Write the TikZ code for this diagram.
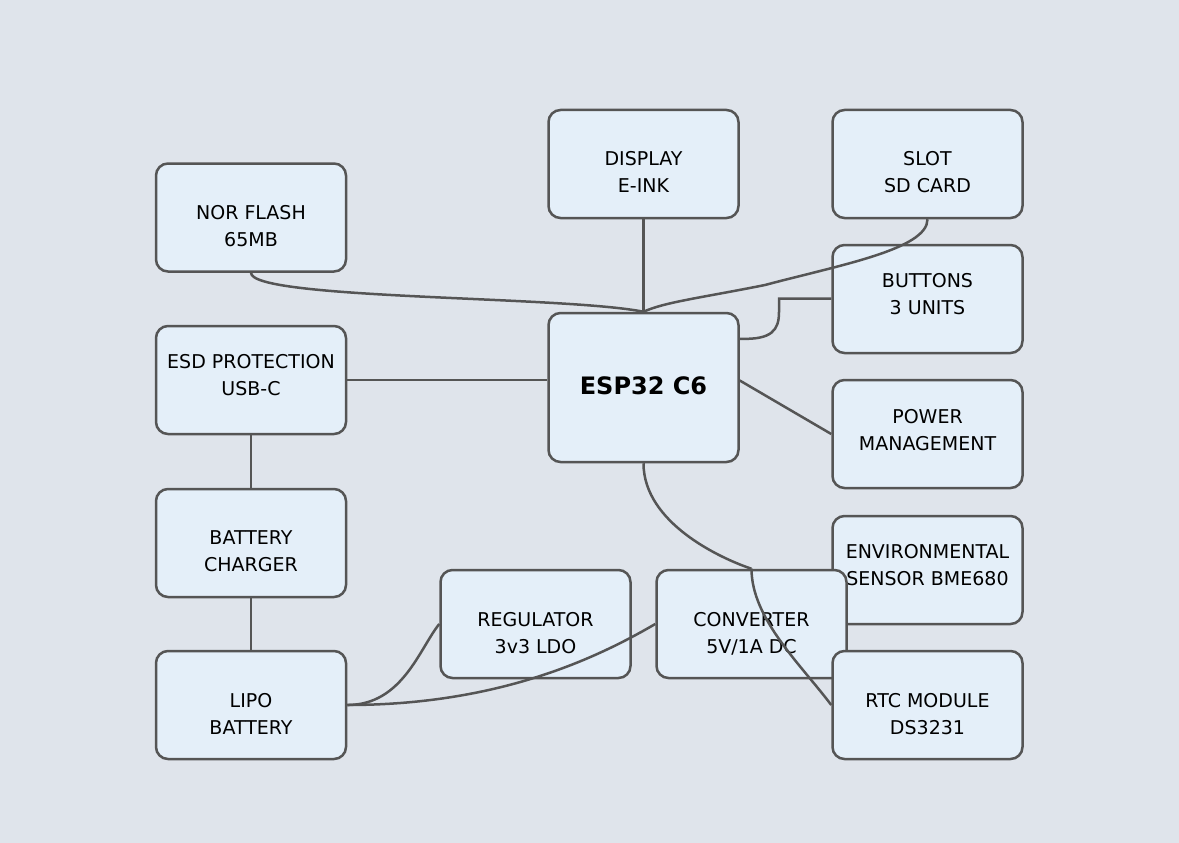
\documentclass[tikz,border=0pt]{standalone}
\usepackage{fontspec}
\setmainfont{DejaVu Sans}
\usetikzlibrary{calc}
\definecolor{bgc}{RGB}{223,228,235}
\definecolor{boxfill}{RGB}{228,239,249}
\definecolor{edgec}{RGB}{85,85,85}
\newcommand\twoline[3][-10.5pt]{\raisebox{#1}[\height][\depth]{\begin{tabular}{@{}c@{}}#2\\#3\end{tabular}}}
\tikzset{
  blk/.style={rectangle, rounded corners=12pt, draw=edgec, line width=2.5pt, fill=boxfill,
    minimum width=190pt, minimum height=108pt, inner sep=0pt, align=center,
    font=\fontsize{19}{27}\selectfont, text=black},
  wire/.style={draw=edgec, line width=2.5pt}
}
\begin{document}
\begin{tikzpicture}[x=1pt,y=-1pt]
\useasboundingbox (0,0) rectangle (1179,843);
\fill[bgc] (0,0) rectangle (1179,843);
\node[blk] (nor) at (251,217.5) {\twoline{NOR FLASH}{65MB}};
\node[blk] (disp) at (643.5,164) {\twoline[-9.5pt]{DISPLAY}{E-INK}};
\node[blk] (sd) at (927.5,164) {\twoline[-9.5pt]{SLOT}{SD CARD}};
\node[blk] (btn) at (927.5,299) {\twoline[3.5pt]{BUTTONS}{3 UNITS}};
\node[blk] (esd) at (251,380) {\twoline[3.5pt]{ESD PROTECTION}{USB-C}};
\node[blk, minimum height=149pt, font=\fontsize{24}{27}\selectfont\bfseries] (esp) at (643.5,387.5) {\raisebox{2pt}[\height][\depth]{ESP32 C6}};
\node[blk] (pwr) at (927.5,434) {\twoline[2.5pt]{POWER}{MANAGEMENT}};
\node[blk] (chg) at (251,543) {\twoline[-9.5pt]{BATTERY}{CHARGER}};
\node[blk] (env) at (927.5,570) {\twoline[3.5pt]{ENVIRONMENTAL}{SENSOR BME680}};
\node[blk] (reg) at (535.5,624) {\twoline{REGULATOR}{3v3 LDO}};
\node[blk] (conv) at (751.5,624) {\twoline{CONVERTER}{5V/1A DC}};
\node[blk] (lipo) at (251,705) {\twoline{LIPO}{BATTERY}};
\node[blk] (rtc) at (927.5,705) {\twoline{RTC MODULE}{DS3231}};
% connectors
\draw[wire] (nor.south) .. controls ($(nor.south)+(0,27)$) and ($(esp.north)+(-80,-16)$) .. (esp.north);
\draw[wire] (disp.south) -- (esp.north);
\draw[wire] (sd.south) .. controls ($(sd.south)+(0,30)$) and (840,265) .. (765,285) .. controls (700,298) and (665,302) .. (esp.north);
\coordinate (bk) at (779,298.5);
\draw[wire] ($(esp.north east)+(0,27)$) .. controls (772,340) and (779,330) .. (779,312) -- (bk) -- (bk -| btn.west);
\draw[wire] (esd.east) -- (esd.east -| esp.west);
\draw[wire] ($(esp.east)+(0,-7)$) -- (pwr.west);
\draw[wire] (esd.south) -- (chg.north);
\draw[wire] (chg.south) -- (lipo.north);
\draw[wire] (esp.south) .. controls ($(esp.south)+(0,60)$) and ($(conv.north)+(-30,-10)$) .. (conv.north);
\draw[wire] (conv.north) .. controls ($(conv.north)+(0,50)$) and ($(rtc.west)+(-30,-40)$) .. (rtc.west);
\draw[wire] (lipo.east) .. controls ($(lipo.east)+(55,0)$) and ($(reg.west)+(-20,25)$) .. (reg.west);
\draw[wire] (lipo.east) .. controls ($(lipo.east)+(150,0)$) and ($(conv.west)+(-60,35)$) .. (conv.west);
\end{tikzpicture}
\end{document}
